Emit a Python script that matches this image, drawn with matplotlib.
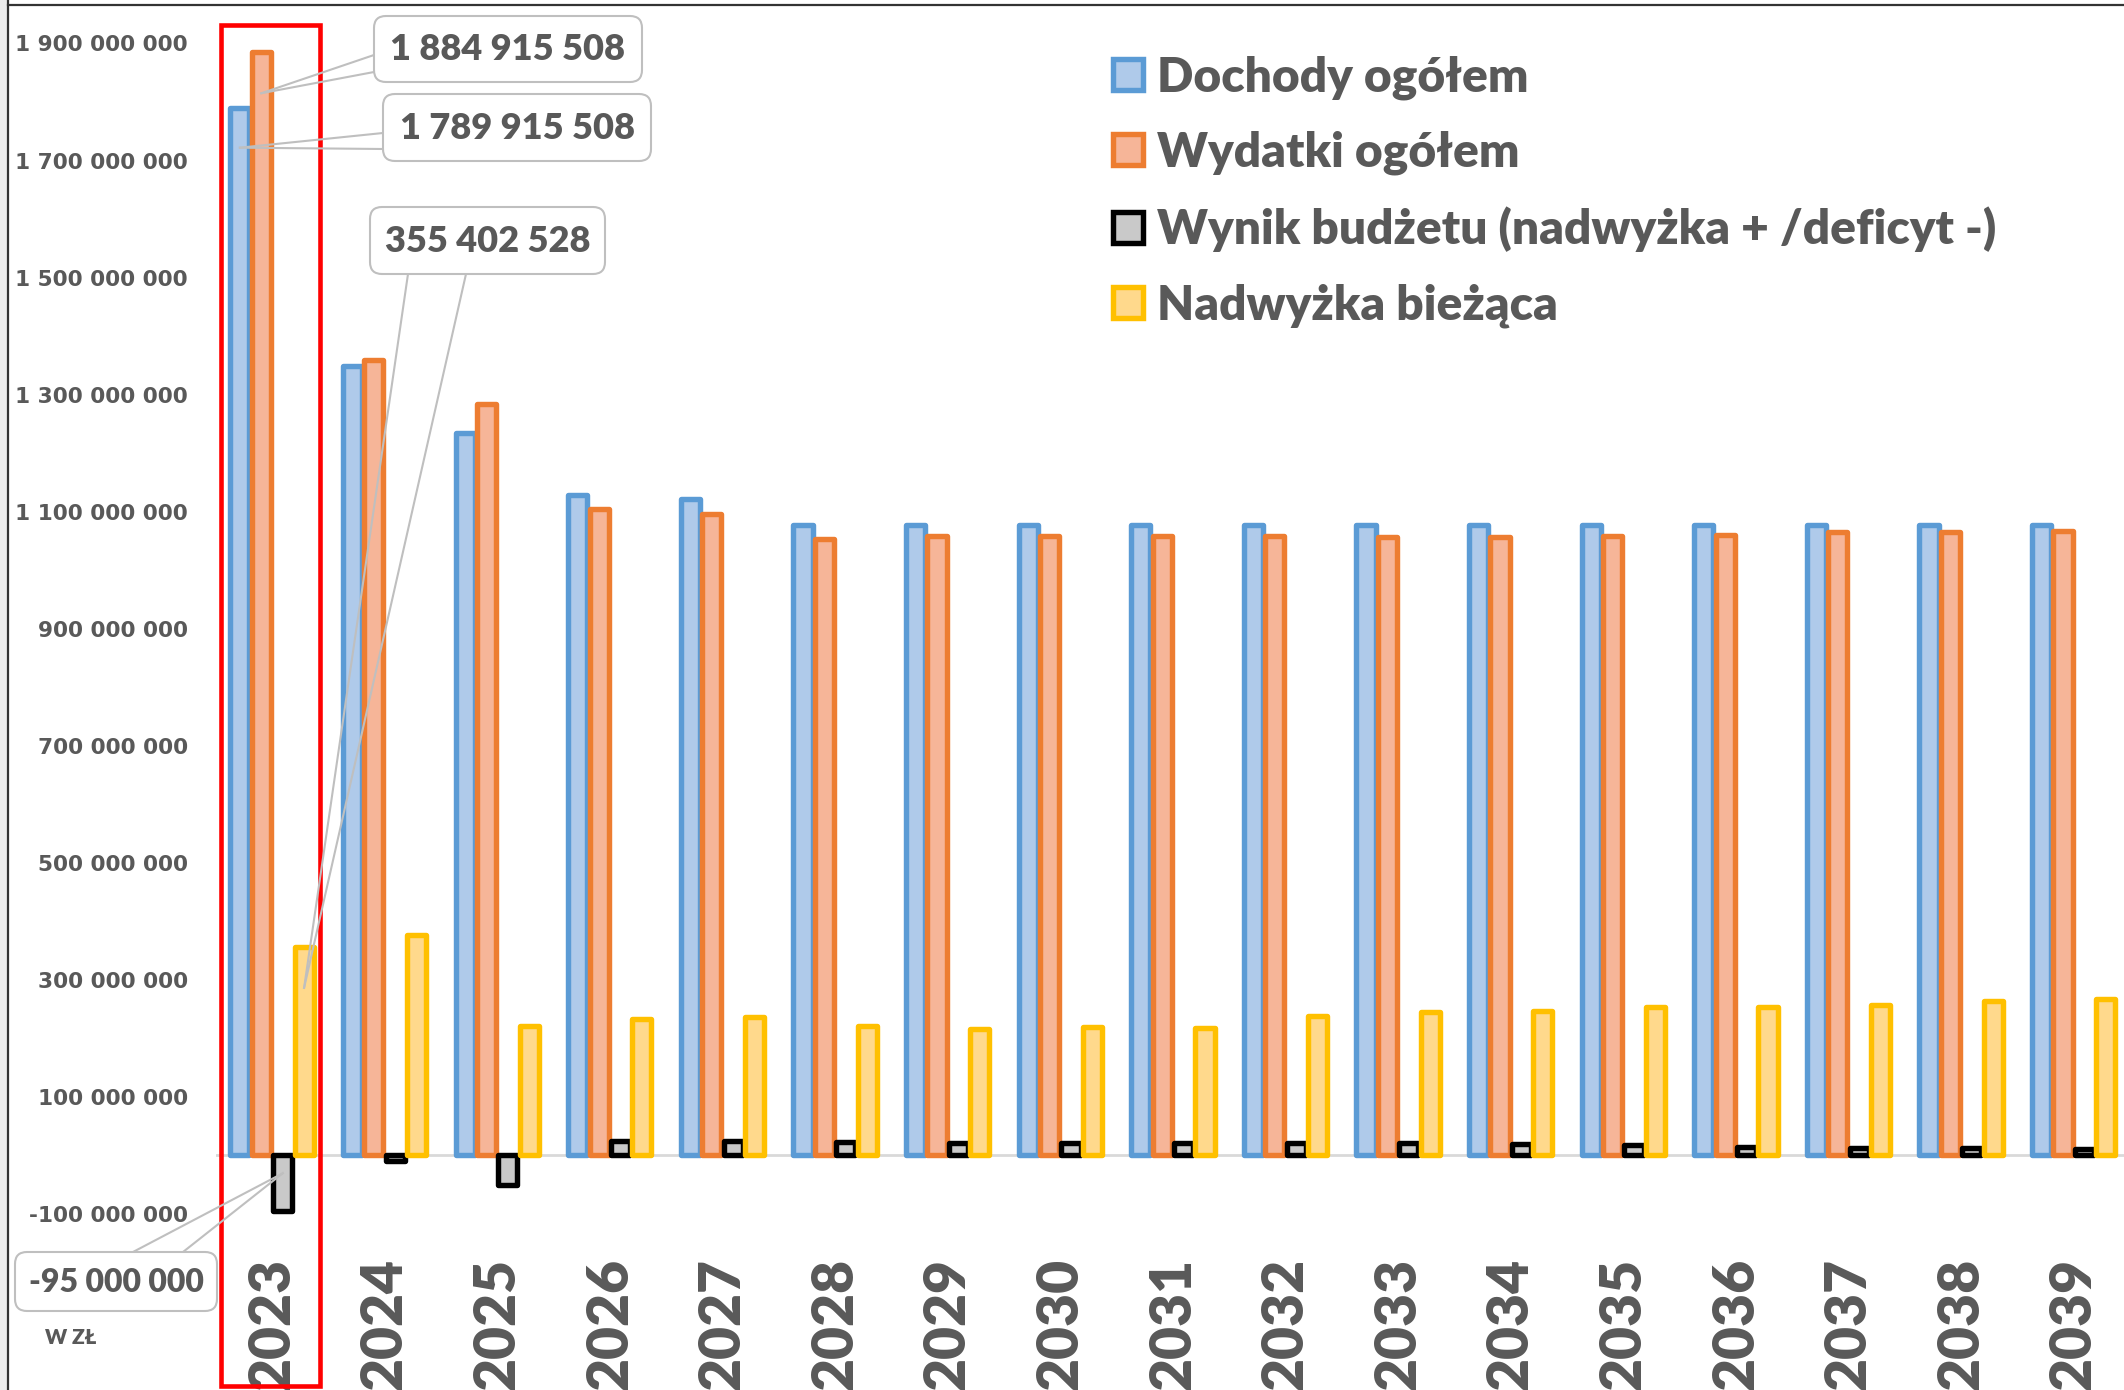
import matplotlib
matplotlib.use("Agg")
import matplotlib.pyplot as plt
from matplotlib.patches import FancyBboxPatch, Rectangle
from matplotlib.lines import Line2D
import numpy as np

# ---------------- data ----------------
years = [str(y) for y in range(2023, 2040)]
dochody = [1789915508, 1349e6, 1234.5e6, 1129e6, 1121e6, 1078e6, 1078e6, 1078e6, 1078e6,
           1078e6, 1078e6, 1078e6, 1078e6, 1078e6, 1078e6, 1078e6, 1078e6]
wydatki = [1884915508, 1359e6, 1284.5e6, 1105e6, 1096.5e6, 1054e6, 1058e6, 1058e6, 1058e6,
           1058e6, 1056e6, 1056e6, 1058.5e6, 1061e6, 1065e6, 1065e6, 1066.5e6]
wynik = [-95000000, -10e6, -50e6, 24e6, 24.5e6, 23e6, 20.5e6, 20.5e6, 20.5e6,
         21.5e6, 21.5e6, 19.5e6, 17.5e6, 14e6, 13.5e6, 12e6, 11.5e6]
biezaca = [355402528, 376e6, 221e6, 232.7e6, 236.6e6, 221e6, 216.6e6, 219e6, 218.4e6,
           238e6, 245e6, 247e6, 253.7e6, 254e6, 256.6e6, 263.5e6, 268e6]
labels = ["Dochody ogółem", "Wydatki ogółem",
          "Wynik budżetu (nadwyżka + /deficyt -)", "Nadwyżka bieżąca"]
yticks = [-100e6, 100e6, 300e6, 500e6, 700e6, 900e6, 1100e6, 1300e6, 1500e6, 1700e6, 1900e6]

TXT = "#595959"
FW = "heavy"
W, H = 2124, 1390
fig = plt.figure(figsize=(W / 100, H / 100), dpi=100)

# axes geometry in pixels
ax_l, ax_r, ax_t, ax_b = 215.7, 2130.0, 5.0, 1240.0
ax = fig.add_axes([ax_l / W, (H - ax_b) / H, (ax_r - ax_l) / W, (ax_b - ax_t) / H])
ax.patch.set_alpha(0)

x = np.arange(len(years))
step, width = 0.19, 0.17
styles = [("#5B9BD5", "#AFCAEA"), ("#ED7D31", "#F6B598"),
          ("#000000", "#C9C9C9"), ("#FFC000", "#FFD98C")]
series = [dochody, wydatki, wynik, biezaca]
bars = []
for i, (vals, lab, (ec, fc)) in enumerate(zip(series, labels, styles)):
    b = ax.bar(x + (i - 1.5) * step, vals, width, color=fc, edgecolor=ec,
               linewidth=3.9, label=lab, zorder=3 + i, joinstyle="round")
    bars.append(b)

ax.axhline(0, color="#D9D9D9", lw=2, zorder=2)

ax.set_xlim(-0.5, 16.5)
ax.set_ylim(-144.4e6, 1965.7e6)

def fmt(v):
    return f"{int(round(v)):,}".replace(",", " ")

ax.set_yticks(yticks)
ax.set_yticklabels([fmt(v) for v in yticks], fontfamily="DejaVu Sans",
                   fontweight="bold", fontsize=15.6, color=TXT)
ax.tick_params(axis="y", length=0, pad=20)
ax.set_xticks(x)
ax.set_xticklabels(years, rotation=90, fontfamily="Lato", fontweight=FW,
                   fontsize=41, color=TXT)
ax.tick_params(axis="x", length=0, pad=13)
for s in ax.spines.values():
    s.set_visible(False)

leg = ax.legend(loc="upper left", bbox_to_anchor=(1113 / W, 1 - 55 / H),
                bbox_transform=fig.transFigure, frameon=False,
                prop=dict(family="Lato", weight=FW, size=34.5),
                handlelength=0.62, handleheight=0.62, handletextpad=0.3,
                labelspacing=0.65, borderpad=0, borderaxespad=0)
for t in leg.get_texts():
    t.set_color(TXT)

# ---------------- helpers in pixel space ----------------
def pin(xp, yp):
    return xp / 100.0, (H - yp) / 100.0

def data_px(xd, yd):
    dx, dy = ax.transData.transform((xd, yd))
    return dx, H - dy

def callout(text, box, anchors, pt, size=26):
    x0, y0, x1, y1 = box
    bx, by = pin(x0, y1)
    p = FancyBboxPatch((bx, by), (x1 - x0) / 100, (y1 - y0) / 100,
                       boxstyle="round,pad=0,rounding_size=0.12",
                       transform=fig.dpi_scale_trans, fc="white", ec="#BFBFBF",
                       lw=1.5, zorder=20)
    fig.add_artist(p)
    cx, cy = pin((x0 + x1) / 2, (y0 + y1) / 2 + 1)
    fig.text(cx, cy, text, transform=fig.dpi_scale_trans, ha="center", va="center",
             fontfamily="Lato", fontweight=FW, fontsize=size, color=TXT, zorder=21)
    px, py = data_px(*pt)
    for axp, ayp in anchors:
        a = pin(axp, ayp)
        b = pin(px, py)
        fig.add_artist(Line2D([a[0], b[0]], [a[1], b[1]], transform=fig.dpi_scale_trans,
                              color="#BFBFBF", lw=1.5, zorder=19))

callout(fmt(wydatki[0]), (374, 16, 642, 82), [(374, 55), (374, 72)],
        (-0.5 * step, wydatki[0] - 70e6))
callout(fmt(dochody[0]), (383, 94, 651, 161), [(383, 133), (383, 149)],
        (-1.5 * step, dochody[0] - 68e6))
callout(fmt(biezaca[0]), (370, 207, 605, 274), [(408, 274), (466, 274)],
        (1.5 * step, biezaca[0] - 69e6))
callout(fmt(wynik[0]), (15, 1252, 217, 1311), [(133, 1252), (183, 1252)],
        (0.5 * step, wynik[0] * 0.32), size=23)

# unit note
fig.text(*pin(71, 1338), "W ZŁ", transform=fig.dpi_scale_trans, ha="center", va="center",
         fontfamily="Lato", fontweight=FW, fontsize=15, color=TXT)

# red highlight frame around 2023
rx0, _ = data_px(-0.453, 0)
rx1, _ = data_px(0.427, 0)
fig.add_artist(Rectangle(pin(rx0, 1386), (rx1 - rx0) / 100, (1386 - 24.5) / 100,
                         transform=fig.dpi_scale_trans, fill=False, ec="#FF0000",
                         lw=3.3, zorder=15))

# outer frame of the picture
fig.add_artist(Rectangle((0, 0), 7 / 100, H / 100, transform=fig.dpi_scale_trans,
                         fc="#EDEDED", ec="none", zorder=1))
fig.add_artist(Line2D([0.08, 0.08], [0, H / 100], transform=fig.dpi_scale_trans,
                      color="#333333", lw=1.6, zorder=2))
fig.add_artist(Line2D([0.08, W / 100], [(H - 5) / 100] * 2, transform=fig.dpi_scale_trans,
                      color="#333333", lw=1.6, zorder=2))

fig.savefig("out.png", dpi=100)
